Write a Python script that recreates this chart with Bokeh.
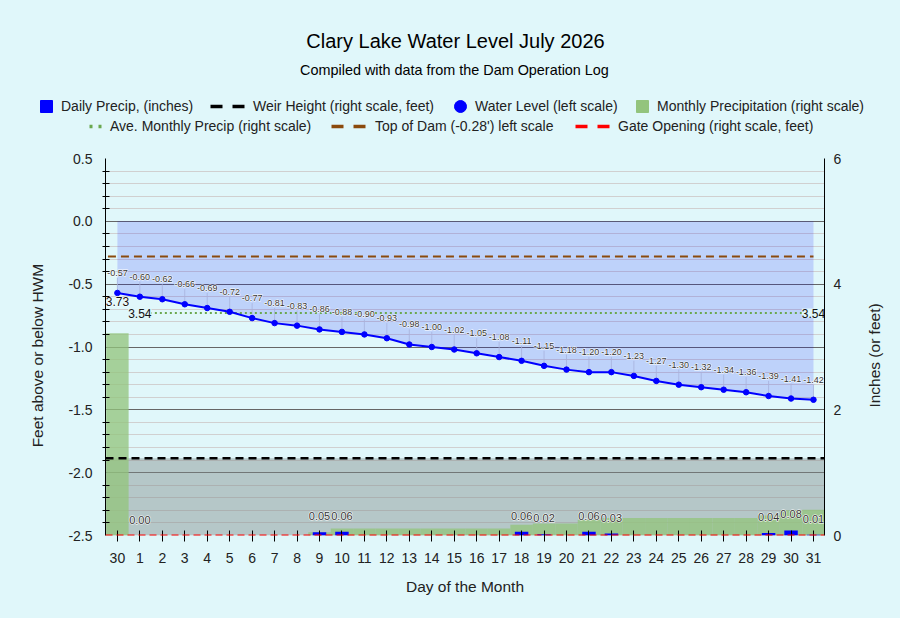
import math
from bokeh.plotting import figure
from bokeh.layouts import column, row
from bokeh.models import (Range1d, LinearAxis, FixedTicker, Label, Legend, LegendItem,
                          Span, PrintfTickFormatter, GlobalInlineStyleSheet)
from bokeh.core.properties import value
from bokeh.embed import file_html
from bokeh.resources import INLINE

# ---------------- data ----------------
days = ["30"] + [str(d) for d in range(1, 32)]
water_level = [-0.57, -0.60, -0.62, -0.66, -0.69, -0.72, -0.77, -0.81, -0.83, -0.86,
               -0.88, -0.90, -0.93, -0.98, -1.00, -1.02, -1.05, -1.08, -1.11, -1.15,
               -1.18, -1.20, -1.20, -1.23, -1.27, -1.30, -1.32, -1.34, -1.36, -1.39,
               -1.41, -1.42]
daily_precip = [None, 0.00, None, None, None, None, None, None, None, 0.05, 0.06,
                None, None, None, None, None, None, None, 0.06, 0.02, None, 0.06, 0.03,
                None, None, None, None, None, None, 0.04, 0.08, 0.01]
monthly_precip = [3.22, 0, 0, 0, 0, 0, 0, 0, 0, 0.05, 0.11,
                  0.11, 0.11, 0.11, 0.11, 0.11, 0.11, 0.11, 0.17, 0.19, 0.19, 0.25, 0.28,
                  0.28, 0.28, 0.28, 0.28, 0.28, 0.28, 0.32, 0.40, 0.41]
ave_precip_prev = 3.73
ave_precip = 3.54
weir_height = 1.23
top_of_dam = -0.28
gate_opening = 0.0
left_ticks = [-2.5, -2.0, -1.5, -1.0, -0.5, 0.0, 0.5]
right_ticks = [0, 2, 4, 6]

# ---------------- styles ----------------
BG = "#e0f7fa"
FONT = "Liberation Sans"
GREEN = "#93c47d"
DKGREEN = "#6aa84f"
BROWN = "#8b4a0c"
TXT = "#222222"
NBSP = "\u00a0"

pos = list(range(len(days)))

HEAD_H = 148
MAIN_H = 618 - HEAD_H
SIDE_W = 40


def no_align(fig):
    try:
        fig.frame_align = False
    except Exception:
        pass


# ================= header figure (titles + legend) =================
top = figure(width=900, height=HEAD_H, x_range=Range1d(0, 900), y_range=Range1d(0, HEAD_H),
             output_backend="svg", toolbar_location=None, min_border=0,
             x_axis_location=None, y_axis_location=None,
             background_fill_color=BG, border_fill_color=BG, outline_line_color=None)
top.grid.visible = False
no_align(top)
top.stylesheets = [GlobalInlineStyleSheet(css="body{background-color:%s;}" % BG)]


def hlabel(x, y_page, text, size):
    top.add_layout(Label(x=x, y=HEAD_H - y_page, x_units="screen", y_units="screen", text=text,
                         text_align="center", text_baseline="middle", text_font=FONT,
                         text_font_size=size, text_color="#000000"))


hlabel(455, 40, "Clary Lake Water Level July 2026", "20px")
hlabel(454, 69, "Compiled with data from the Dam Operation Log", "14.4px")

nan = float("nan")
r_daily = top.scatter(x=[nan], y=[nan], marker="square", size=12, fill_color="#0000ff", line_color="#0000ff")
r_weir = top.line(x=[nan, nan], y=[nan, nan], line_color="black", line_width=3.5, line_dash="12 10")
r_water = top.scatter(x=[nan], y=[nan], marker="circle", size=12, fill_color="#0000ff", line_color="#0000ff")
r_month = top.scatter(x=[nan], y=[nan], marker="square", size=12, fill_color=GREEN, line_color=GREEN)
r_ave = top.line(x=[nan, nan], y=[nan, nan], line_color=DKGREEN, line_width=3.5, line_dash="3 6")
r_dam = top.line(x=[nan, nan], y=[nan, nan], line_color=BROWN, line_width=3.5, line_dash="12 10")
r_gate = top.line(x=[nan, nan], y=[nan, nan], line_color="red", line_width=3.5, line_dash="12 10")


def add_legend(r, label, x0, y_page, gw, standoff):
    leg = Legend(items=[LegendItem(label=label, renderers=[r])], location=(x0, HEAD_H - y_page - 15),
                 orientation="horizontal", glyph_width=gw, glyph_height=30, label_height=30,
                 label_standoff=standoff, padding=0, margin=0, border_line_color=None,
                 background_fill_alpha=0, label_text_font=FONT, label_text_font_size="14px",
                 label_text_color=TXT)
    top.add_layout(leg)


add_legend(r_daily, "Daily Precip, (inches)", 31, 106, 30, 0)
add_legend(r_weir, "Weir Height (right scale, feet)", 210, 106, 35, 8)
add_legend(r_water, "Water Level (left scale)", 445, 106, 30, 0)
add_legend(r_month, "Monthly Precipitation (right scale)", 627, 106, 30, 0)
add_legend(r_ave, "Ave. Monthly Precip (right scale)", 89, 126, 13, 8)
add_legend(r_dam, "Top of Dam (-0.28') left scale", 331, 126, 35, 9)
add_legend(r_gate, "Gate Opening (right scale, feet)", 575, 126, 35, 8)

# ================= main chart =================
p = figure(width=900 - SIDE_W, height=MAIN_H, x_range=Range1d(-0.53, 31.49), y_range=Range1d(-2.5, 0.5),
           output_backend="svg", toolbar_location=None,
           min_border_left=105, min_border_right=900 - SIDE_W - 824, min_border_top=10,
           min_border_bottom=83,
           background_fill_color=BG, border_fill_color=BG, outline_line_color=None)
p.extra_y_ranges = {"right": Range1d(0, 6)}
no_align(p)

xax = p.xaxis[0]
xax.ticker = FixedTicker(ticks=pos)
xax.major_label_overrides = {i: d for i, d in enumerate(days)}
xax.axis_line_color = None
xax.major_tick_in = 5
xax.major_tick_out = 6
xax.minor_tick_line_color = None
xax.major_tick_line_color = "black"
xax.major_label_standoff = 11
xax.major_label_text_font = FONT
xax.major_label_text_font_size = "14px"
xax.major_label_text_color = TXT
xax.axis_label = "Day of the Month"
xax.axis_label_standoff = 12
xax.axis_label_text_font = FONT
xax.axis_label_text_font_size = "15.5px"
xax.axis_label_text_font_style = "normal"
xax.axis_label_text_color = TXT

minor = [round(-2.5 + 0.1 * i, 1) for i in range(31) if i % 5 != 0]
yticker = FixedTicker(ticks=left_ticks, minor_ticks=minor)
yax = p.yaxis[0]
yax.ticker = yticker
yax.formatter = PrintfTickFormatter(format="%.1f")
yax.axis_line_color = "black"
yax.major_tick_in = 0
yax.major_tick_out = 0
yax.minor_tick_in = 4
yax.minor_tick_out = 3
yax.minor_tick_line_color = "black"
yax.major_label_standoff = 10
yax.major_label_text_font = FONT
yax.major_label_text_font_size = "14px"
yax.major_label_text_color = TXT
yax.axis_label = "Feet above or below HWM" + NBSP * 4
yax.axis_label_standoff = 19
yax.axis_label_text_font = FONT
yax.axis_label_text_font_size = "15.5px"
yax.axis_label_text_font_style = "normal"
yax.axis_label_text_color = TXT

rax = LinearAxis(y_range_name="right", ticker=FixedTicker(ticks=right_ticks))
rax.axis_line_color = "black"
rax.major_tick_in = 0
rax.major_tick_out = 0
rax.minor_tick_line_color = None
rax.major_label_standoff = 9
rax.major_label_text_font = FONT
rax.major_label_text_font_size = "14px"
rax.major_label_text_color = TXT
p.add_layout(rax, "right")

p.xgrid.grid_line_color = None
p.ygrid.ticker = yticker
p.ygrid.grid_line_color = "#666666"
p.ygrid.minor_grid_line_color = "#d0d0d0"

# gray region below weir height
p.quad(left=[pos[0] - 1], right=[pos[-1] + 1], bottom=[0], top=[weir_height],
       y_range_name="right", fill_color="#808c8c", fill_alpha=0.45, line_color=None)

# monthly precipitation (cumulative) bars
p.vbar(x=pos, top=monthly_precip, bottom=0, width=1.0, y_range_name="right",
       fill_color=GREEN, fill_alpha=0.77, line_color=None)

# water level area
p.varea(x=pos, y1=[0] * len(pos), y2=water_level, fill_color="#0000ff", fill_alpha=0.15)

# connectors from labels to points
p.segment(x0=pos, y0=water_level, x1=pos, y1=[w + 0.12 for w in water_level],
          line_color="#a8b2dc", line_width=1, line_alpha=0.8)

# top of dam
p.line(x=[pos[0] - 1, pos[-1]], y=[top_of_dam, top_of_dam], line_color=BROWN,
       line_width=2, line_dash="8 5")

# average monthly precip
p.line(x=[pos[1], pos[-1]], y=[ave_precip, ave_precip], y_range_name="right",
       line_color=DKGREEN, line_width=2, line_dash="2 3")

# weir and gate
p.add_layout(Span(location=weir_height, dimension="width", y_range_name="right",
                  line_color="black", line_width=2.5, line_dash="8 5"))
p.add_layout(Span(location=gate_opening, dimension="width", y_range_name="right",
                  line_color="red", line_width=2, line_dash="7 4"))

# water level line
p.line(x=pos, y=water_level, line_color="#0000ff", line_width=2)
p.scatter(x=pos, y=water_level, marker="circle", size=5.5, fill_color="#0000ff", line_color="#0000ff")

# daily precip bars
dp_x = [i for i, v in zip(pos, daily_precip) if v is not None]
dp_v = [v for v in daily_precip if v is not None]
p.vbar(x=dp_x, top=dp_v, bottom=0, width=0.6, y_range_name="right",
       fill_color="#0000ff", line_color=None)


def halo_text(xs, ys, texts, size, y_offset=0, rng="default", color="#333333"):
    for layer in (0, 1):
        kw = dict(text_outline_color="white", text_color="white") if layer == 0 else dict(text_color=color)
        p.text(x=xs, y=ys, text=texts, y_offset=y_offset, y_range_name=rng,
               text_align="center", text_baseline="middle", text_font=value(FONT),
               text_font_size=size, **kw)


halo_text(pos, water_level, ["%.2f" % w for w in water_level], "9px", -20)
halo_text(dp_x, dp_v, ["%.2f" % v for v in dp_v], "11px", -16, "right")
halo_text([pos[0]], [ave_precip_prev], ["%.2f" % ave_precip_prev], "12px", 0, "right", "#111111")
p.text(x=[pos[1], pos[-1]], y=[ave_precip, ave_precip], text=["%.2f" % ave_precip] * 2,
       y_range_name="right", text_align="center", text_baseline="middle", text_font=value(FONT),
       text_font_size="12px", text_color="#111111", background_fill_color=BG)

p.add_layout(Label(x=-6, y=top_of_dam, x_units="screen", y_units="data", text="%.2f" % top_of_dam,
                   text_align="right", text_baseline="middle", text_font=FONT,
                   text_font_size="12px", text_color="#b45f06"))

# ================= right-hand title strip =================
side = figure(width=SIDE_W, height=MAIN_H, x_range=Range1d(0, SIDE_W), y_range=Range1d(0, MAIN_H),
              output_backend="svg", toolbar_location=None, min_border=0,
              x_axis_location=None, y_axis_location=None,
              background_fill_color=BG, border_fill_color=BG, outline_line_color=None)
side.grid.visible = False
no_align(side)
side.add_layout(Label(x=874 - (900 - SIDE_W), y=MAIN_H - (355 - HEAD_H), x_units="screen", y_units="screen",
                      text="Inches (or feet)", angle=math.pi / 2, text_align="center",
                      text_baseline="middle", text_font=FONT, text_font_size="15.5px",
                      text_color=TXT))

layout = column(top, row(p, side, spacing=0), spacing=0)
open("out.html", "w").write(file_html(layout, INLINE))
